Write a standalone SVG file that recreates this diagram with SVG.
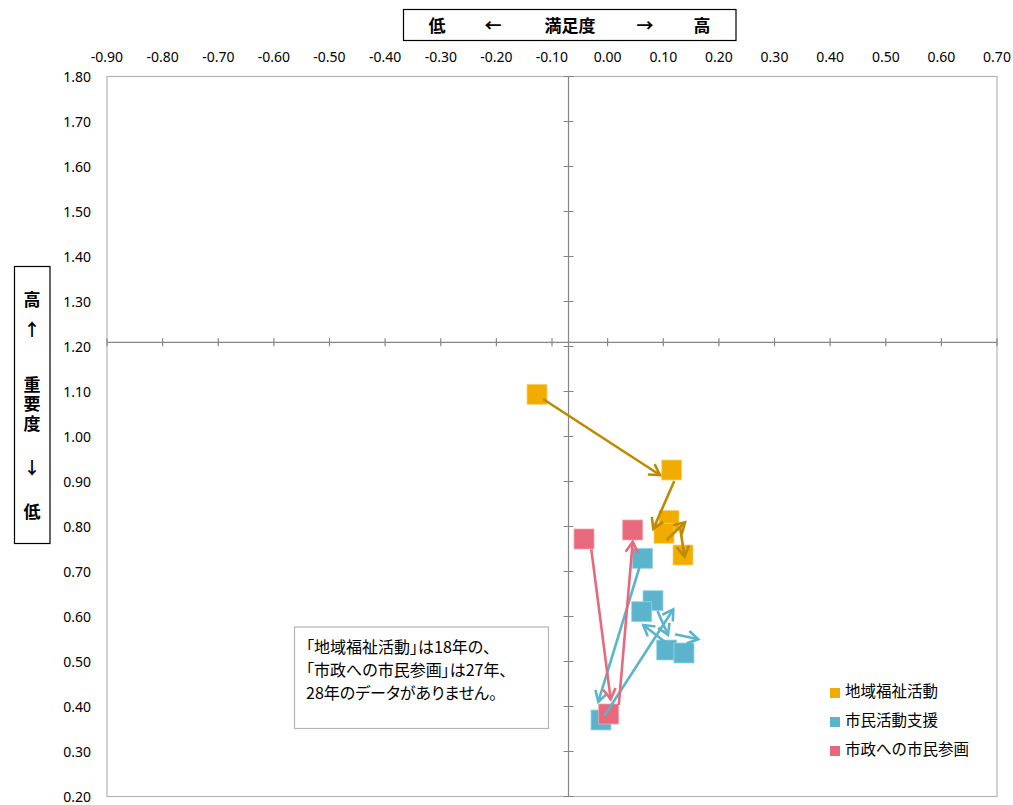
<svg xmlns="http://www.w3.org/2000/svg" width="1013" height="805" viewBox="0 0 1013 805">
<style>
.lbl{font-family:"Noto Sans","Liberation Sans",sans-serif;font-size:14px;fill:#000}
.xl{text-anchor:middle}
.yl{text-anchor:end}
.ttl{font-family:"Noto Sans CJK JP","Noto Sans",sans-serif;font-size:17px;font-weight:bold;fill:#000;text-anchor:middle}
.vt{font-family:"Noto Sans CJK JP","Noto Sans",sans-serif;font-size:17px;font-weight:bold;fill:#000;writing-mode:vertical-rl;text-orientation:upright;letter-spacing:2.5px}
.note{font-family:"Noto Sans CJK JP","Noto Sans",sans-serif;font-size:16px;fill:#000;font-feature-settings:"palt"}
.leg{font-family:"Noto Sans CJK JP","Noto Sans",sans-serif;font-size:15.5px;fill:#000}
.axis{stroke:#868686;stroke-width:1.2;fill:none}
.frame{stroke:#B4B4B4;stroke-width:1.2;fill:none}
.o{fill:#F2AC00;stroke:#F8D27A;stroke-width:0.8}
.b{fill:#5BB4CC;stroke:#9FD3E1;stroke-width:0.8}
.p{fill:#E8687C;stroke:#F2A6B2;stroke-width:0.8}
.ao{stroke:#BF8A00;stroke-width:2.6;fill:none}
.ab{stroke:#5BB4CC;stroke-width:2.6;fill:none}
.ap{stroke:#E8687C;stroke-width:2.6;fill:none}
</style>
<defs>
<marker id="mo" markerUnits="userSpaceOnUse" viewBox="-15 -10 30 20" markerWidth="30" markerHeight="20" refX="0" refY="0" orient="auto"><path d="M-10.5,-6.2 L0,0 L-10.5,6.2" fill="none" stroke="#BF8A00" stroke-width="2.6"/></marker>
<marker id="mb" markerUnits="userSpaceOnUse" viewBox="-15 -10 30 20" markerWidth="30" markerHeight="20" refX="0" refY="0" orient="auto"><path d="M-10.5,-6.2 L0,0 L-10.5,6.2" fill="none" stroke="#5BB4CC" stroke-width="2.6"/></marker>
<marker id="mp" markerUnits="userSpaceOnUse" viewBox="-15 -10 30 20" markerWidth="30" markerHeight="20" refX="0" refY="0" orient="auto"><path d="M-10.5,-6.2 L0,0 L-10.5,6.2" fill="none" stroke="#E8687C" stroke-width="2.6"/></marker>
</defs>
<rect width="1013" height="805" fill="#fff"/>

<g id="title-x">
<rect x="403.5" y="9.5" width="332.5" height="31" fill="#fff" stroke="#000" stroke-width="1.2"/>
<text class="ttl" x="437" y="32">低</text>
<text class="ttl" x="493" y="32">←</text>
<text class="ttl" x="570" y="32">満足度</text>
<text class="ttl" x="645" y="32">→</text>
<text class="ttl" x="702" y="32">高</text>
</g>

<g id="title-y">
<rect x="14.5" y="266.5" width="35.5" height="277" fill="#fff" stroke="#000" stroke-width="1.2"/>
<text class="ttl" x="32" y="306">高</text>
<text class="ttl" x="32" y="336">↑</text>
<text class="vt" x="32" y="376">重要度</text>
<text class="ttl" x="32" y="474">↓</text>
<text class="ttl" x="32" y="518">低</text>
</g>

<g id="x-labels" class="lbl xl">
<text x="107" y="61.5">-0.90</text>
<text x="162.6" y="61.5">-0.80</text>
<text x="218.3" y="61.5">-0.70</text>
<text x="273.9" y="61.5">-0.60</text>
<text x="329.5" y="61.5">-0.50</text>
<text x="385.1" y="61.5">-0.40</text>
<text x="440.8" y="61.5">-0.30</text>
<text x="496.4" y="61.5">-0.20</text>
<text x="552" y="61.5">-0.10</text>
<text x="607.6" y="61.5">0.00</text>
<text x="663.3" y="61.5">0.10</text>
<text x="718.9" y="61.5">0.20</text>
<text x="774.5" y="61.5">0.30</text>
<text x="830.1" y="61.5">0.40</text>
<text x="885.8" y="61.5">0.50</text>
<text x="941.4" y="61.5">0.60</text>
<text x="997" y="61.5">0.70</text>
</g>

<g id="y-labels" class="lbl yl">
<text x="91" y="82">1.80</text>
<text x="91" y="127">1.70</text>
<text x="91" y="172">1.60</text>
<text x="91" y="217">1.50</text>
<text x="91" y="262">1.40</text>
<text x="91" y="307">1.30</text>
<text x="91" y="352">1.20</text>
<text x="91" y="397">1.10</text>
<text x="91" y="442">1.00</text>
<text x="91" y="487">0.90</text>
<text x="91" y="532">0.80</text>
<text x="91" y="577">0.70</text>
<text x="91" y="622">0.60</text>
<text x="91" y="667">0.50</text>
<text x="91" y="712">0.40</text>
<text x="91" y="757">0.30</text>
<text x="91" y="802">0.20</text>
</g>

<g id="plot-frame">
<rect class="frame" x="107" y="76.5" width="890" height="720"/>
</g>

<g id="axes" class="axis">
<line x1="107" y1="342.3" x2="997" y2="342.3"/>
<line x1="568.5" y1="76.5" x2="568.5" y2="796.5"/>
<path d="M107,338.3v8 M162.6,338.3v8 M218.3,338.3v8 M273.9,338.3v8 M329.5,338.3v8 M385.1,338.3v8 M440.8,338.3v8 M496.4,338.3v8 M552,338.3v8 M607.6,338.3v8 M663.3,338.3v8 M718.9,338.3v8 M774.5,338.3v8 M830.1,338.3v8 M885.8,338.3v8 M941.4,338.3v8 M997,338.3v8"/>
<path d="M563.5,76.5h10 M563.5,121.5h10 M563.5,166.5h10 M563.5,211.5h10 M563.5,256.5h10 M563.5,301.5h10 M563.5,346.5h10 M563.5,391.5h10 M563.5,436.5h10 M563.5,481.5h10 M563.5,526.5h10 M563.5,571.5h10 M563.5,616.5h10 M563.5,661.5h10 M563.5,706.5h10 M563.5,751.5h10 M563.5,796.5h10"/>
</g>

<g id="note">
<rect x="294.5" y="627" width="254" height="101.5" fill="#fff" stroke="#B4B4B4" stroke-width="1.2"/>
<text class="note" x="306" y="652.5">「地域福祉活動」は18年の、</text>
<text class="note" x="306" y="675.5">「市政への市民参画」は27年、</text>
<text class="note" x="306" y="698.5">28年のデータがありません。</text>
</g>

<g id="series-chiiki-fukushi">
<rect class="o" x="527" y="384.3" width="20" height="20"/>
<rect class="o" x="661.7" y="460" width="20" height="20"/>
<rect class="o" x="659" y="510.5" width="20" height="20"/>
<rect class="o" x="654" y="523.3" width="20" height="20"/>
<rect class="o" x="673" y="545" width="20" height="20"/>
</g>

<g id="series-shimin-katsudo">
<rect class="b" x="632.5" y="548.3" width="20" height="20"/>
<rect class="b" x="643" y="590.7" width="20" height="20"/>
<rect class="b" x="631.7" y="601.7" width="20" height="20"/>
<rect class="b" x="656.7" y="640" width="20" height="20"/>
<rect class="b" x="674" y="643" width="20" height="20"/>
<rect class="b" x="591" y="710" width="20" height="20"/>
</g>

<g id="series-shisei-sankaku">
<rect class="p" x="574" y="529" width="20" height="20"/>
<rect class="p" x="622.7" y="520" width="20" height="20"/>
<rect class="p" x="598.7" y="704" width="20" height="20"/>
</g>

<g id="connectors">
<line class="ao" x1="543" y1="399" x2="660" y2="475" marker-end="url(#mo)"/>
<line class="ao" x1="674.3" y1="481" x2="653.3" y2="529" marker-end="url(#mo)"/>
<line class="ao" x1="666.7" y1="540" x2="685" y2="522.3" marker-end="url(#mo)"/>
<line class="ao" x1="680" y1="526.7" x2="684.5" y2="556.7" marker-end="url(#mo)"/>
<line class="ab" x1="641.7" y1="560" x2="598.3" y2="701.7" marker-end="url(#mb)"/>
<line class="ab" x1="604.3" y1="716" x2="673.3" y2="609.3" marker-end="url(#mb)"/>
<line class="ab" x1="657.5" y1="611" x2="668" y2="635" marker-end="url(#mb)"/>
<line class="ab" x1="666.7" y1="643.3" x2="643.3" y2="625" marker-end="url(#mb)"/>
<line class="ab" x1="675" y1="634.3" x2="698.3" y2="639.3" marker-end="url(#mb)"/>
<line class="ap" x1="591.3" y1="549.3" x2="610.7" y2="699.3" marker-end="url(#mp)"/>
<line class="ap" x1="618.8" y1="705" x2="632.7" y2="541.7" marker-end="url(#mp)"/>
</g>

<g id="legend">
<rect x="830" y="688" width="10" height="10" fill="#F2AC00"/>
<text class="leg" x="845" y="696.5">地域福祉活動</text>
<rect x="830" y="717" width="10" height="10" fill="#5BB4CC"/>
<text class="leg" x="845" y="725.5">市民活動支援</text>
<rect x="830" y="746" width="10" height="10" fill="#E8687C"/>
<text class="leg" x="845" y="754.5">市政への市民参画</text>
</g>
</svg>
